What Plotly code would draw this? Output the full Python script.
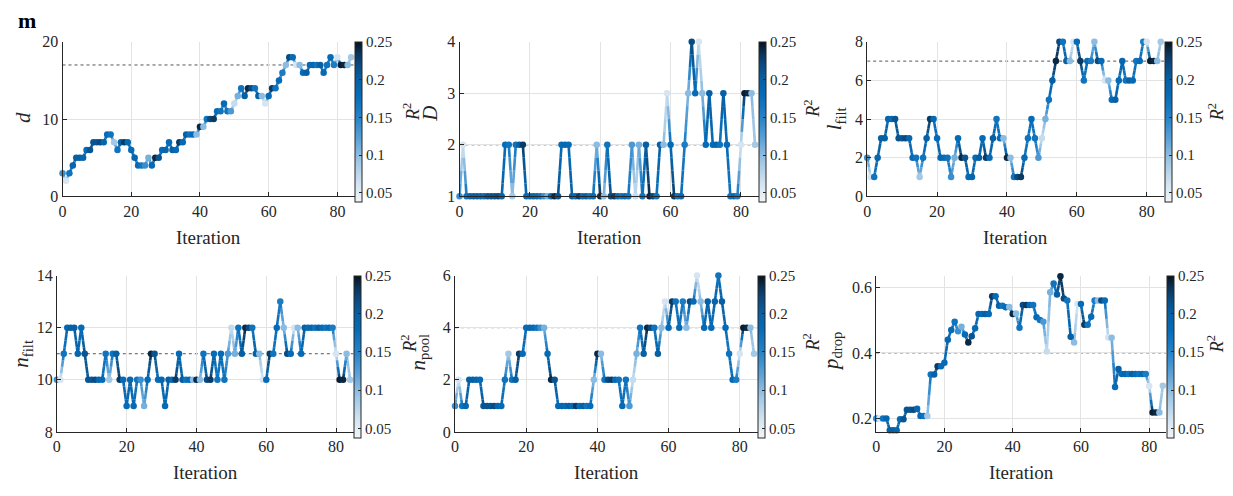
import plotly.graph_objects as go
from plotly.colors import sample_colorscale

W, H = 1233, 496

iterations = list(range(85))

r2 = [0.14, 0.06, 0.17, 0.19, 0.20, 0.20, 0.19, 0.18, 0.21, 0.21,
      0.21, 0.22, 0.19, 0.18, 0.17, 0.09, 0.17, 0.20, 0.23, 0.18,
      0.18, 0.19, 0.18, 0.17, 0.14, 0.11, 0.18, 0.24, 0.21, 0.18,
      0.19, 0.18, 0.20, 0.18, 0.23, 0.18, 0.20, 0.17, 0.18, 0.10,
      0.24, 0.10, 0.17, 0.22, 0.23, 0.18, 0.17, 0.18, 0.17, 0.13,
      0.07, 0.11, 0.17, 0.20, 0.24, 0.22, 0.17, 0.20, 0.10, 0.06,
      0.18, 0.23, 0.17, 0.18, 0.16, 0.10, 0.22, 0.18, 0.06, 0.10,
      0.18, 0.20, 0.18, 0.19, 0.17, 0.20, 0.18, 0.17, 0.18, 0.16,
      0.06, 0.245, 0.24, 0.10, 0.09]

d_vals = [3, 2, 3, 4, 5, 5, 5, 6, 6, 7,
          7, 7, 7, 8, 8, 7, 6, 7, 7, 7,
          6, 5, 4, 4, 4, 5, 4, 5, 5, 6,
          6, 7, 6, 6, 7, 7, 8, 8, 8, 8,
          9, 9, 10, 10, 10, 11, 11, 12, 11, 11,
          12, 13, 14, 13, 14, 14, 14, 13, 13, 12,
          13, 14, 14, 15, 16, 17, 18, 18, 17, 17,
          16, 16, 17, 17, 17, 17, 16, 17, 18, 17,
          18, 17, 17, 17, 18]

D_vals = [1, 2, 1, 1, 1, 1, 1, 1, 1, 1,
          1, 1, 1, 2, 2, 1, 2, 2, 2, 1,
          1, 1, 1, 1, 1, 1, 1, 1, 1, 2,
          2, 2, 1, 1, 1, 1, 1, 1, 1, 2,
          1, 1, 2, 1, 1, 1, 1, 1, 1, 2,
          1, 2, 1, 2, 1, 1, 1, 2, 2, 3,
          2, 1, 1, 1, 2, 3, 4, 3, 4, 3,
          2, 3, 2, 2, 2, 3, 2, 1, 1, 1,
          2, 3, 3, 3, 2]

lfilt_vals = [2, 1, 1, 2, 3, 3, 4, 4, 4, 3,
              3, 3, 3, 2, 2, 1, 2, 3, 4, 4,
              3, 2, 2, 2, 1, 2, 3, 2, 2, 1,
              1, 2, 2, 3, 2, 2, 3, 4, 3, 3,
              2, 2, 1, 1, 1, 2, 3, 4, 3, 2,
              3, 4, 5, 6, 7, 8, 8, 7, 7, 8,
              8, 7, 6, 7, 7, 8, 7, 7, 6, 6,
              5, 5, 6, 7, 6, 6, 6, 7, 7, 8,
              8, 7, 7, 7, 8]

nfilt_vals = [10, 10, 11, 12, 12, 12, 11, 12, 11, 10,
              10, 10, 10, 10, 11, 10, 11, 11, 10, 10,
              9, 10, 9, 10, 10, 9, 10, 11, 11, 10,
              10, 9, 10, 10, 10, 11, 10, 10, 10, 10,
              10, 10, 11, 10, 10, 11, 10, 11, 10, 11,
              12, 11, 12, 11, 12, 12, 12, 11, 11, 10,
              10, 11, 11, 12, 13, 12, 11, 11, 12, 12,
              11, 12, 12, 12, 12, 12, 12, 12, 12, 12,
              11, 10, 10, 11, 10]

npool_vals = [1, 2, 1, 1, 2, 2, 2, 2, 1, 1,
              1, 1, 1, 1, 2, 3, 2, 2, 3, 3,
              4, 4, 4, 4, 4, 4, 3, 2, 2, 1,
              1, 1, 1, 1, 1, 1, 1, 1, 1, 2,
              3, 3, 2, 2, 2, 2, 2, 1, 2, 1,
              2, 3, 4, 3, 4, 4, 4, 3, 4, 5,
              4, 5, 5, 4, 5, 4, 5, 5, 6, 5,
              4, 5, 4, 5, 6, 5, 4, 3, 2, 2,
              3, 4, 4, 4, 3]

pdrop_vals = [0.200, 0.200, 0.200, 0.200, 0.164, 0.164, 0.164, 0.198, 0.198, 0.227,
              0.227, 0.227, 0.230, 0.208, 0.208, 0.208, 0.334, 0.334, 0.359, 0.359,
              0.370, 0.440, 0.470, 0.495, 0.466, 0.480, 0.456, 0.432, 0.451, 0.475,
              0.519, 0.519, 0.519, 0.519, 0.573, 0.573, 0.544, 0.544, 0.539, 0.540,
              0.519, 0.520, 0.477, 0.546, 0.546, 0.546, 0.546, 0.509, 0.500, 0.495,
              0.404, 0.585, 0.612, 0.578, 0.634, 0.566, 0.560, 0.449, 0.432, 0.549,
              0.549, 0.486, 0.486, 0.510, 0.560, 0.560, 0.560, 0.560, 0.447, 0.446,
              0.296, 0.351, 0.336, 0.336, 0.336, 0.336, 0.336, 0.336, 0.336, 0.336,
              0.299, 0.218, 0.218, 0.218, 0.300]

ref_values = [17, 2, 7, 11, 4, 0.4]
y_titles = ["<i>d</i>", "<i>D</i>", "<i>l</i><sub>filt</sub>",
            "<i>n</i><sub>filt</sub>", "<i>n</i><sub>pool</sub>", "<i>p</i><sub>drop</sub>"]
y_ranges = [[0, 20], [1, 4], [0, 8], [8, 14], [0, 6], [0.159, 0.636]]
y_ticks = [[0, 10, 20], [1, 2, 3, 4], [0, 2, 4, 6, 8], [8, 10, 12, 14], [0, 2, 4, 6], [0.2, 0.4, 0.6]]
x_ticks = [0, 20, 40, 60, 80]
cbar_ticks = [0.05, 0.1, 0.15, 0.2, 0.25]
cbar_labels = ["0.05", "0.1", "0.15", "0.2", "0.25"]
cmin, cmax = 0.038, 0.25

series = [d_vals, D_vals, lfilt_vals, nfilt_vals, npool_vals, pdrop_vals]

# layout geometry (pixels)
x_doms = [(58.7, 351.7), (457, 757), (866, 1164), (53, 350.7), (452.5, 756), (875, 1166)]
y_doms = [(35, 195), (35, 195), (35, 195), (277, 439), (277, 439), (277, 439)]
ytitle_pos = [(19, 113), (428, 110), (834, 115), (18, 358), (416, 356), (830, 356)]
xtitle_y = [238, 238, 238, 481, 481, 481]
r2_pos = [(409, 108), (811, 104), (1216, 108), (406, 348), (810, 346), (1215, 348)]

colorscale = [[0.0, "#f2f5f8"], [0.104, "#d6e5f1"], [0.245, "#a3c9e6"],
              [0.387, "#5fa3d8"], [0.528, "#2583c9"], [0.67, "#066bb7"],
              [0.764, "#0760a4"], [0.858, "#0a4a80"], [0.929, "#0a3356"],
              [1.0, "#08121c"]]

FONT = "Liberation Serif, Times New Roman, serif"
TXT = "#262626"


def px(x):
    return x / W


def py(y):
    return 1 - y / H


def col(v):
    t = min(max((v - cmin) / (cmax - cmin), 0), 1)
    return sample_colorscale(colorscale, [t])[0]


def text(s, x, y, size, angle=0, color=TXT, xanchor="center"):
    return dict(text=s, x=px(x), y=py(y), xref="paper", yref="paper", showarrow=False,
                textangle=angle, xanchor=xanchor, yanchor="middle",
                font=dict(family=FONT, size=size, color=color))


fig = go.Figure()
layout = dict(width=W, height=H, autosize=False,
              margin=dict(l=0, r=0, t=0, b=0),
              paper_bgcolor="white", plot_bgcolor="white",
              showlegend=False, font=dict(family=FONT, color=TXT))
annotations = []
shapes = []

K = 4
for p in range(6):
    xa = "x" if p == 0 else f"x{p+1}"
    ya = "y" if p == 0 else f"y{p+1}"
    vals = series[p]
    groups = {}
    for i in range(len(iterations) - 1):
        x0, x1 = iterations[i], iterations[i + 1]
        y0, y1 = vals[i], vals[i + 1]
        for k in range(K):
            t0, t1 = k / K, (k + 1) / K
            tm = (t0 + t1) / 2
            rv = r2[i] + (r2[i + 1] - r2[i]) * tm
            q = round(rv / 0.004) * 0.004
            g = groups.setdefault(q, ([], []))
            g[0].extend([x0 + (x1 - x0) * t0, x0 + (x1 - x0) * t1, None])
            g[1].extend([y0 + (y1 - y0) * t0, y0 + (y1 - y0) * t1, None])
    for q, (gx, gy) in sorted(groups.items()):
        fig.add_trace(go.Scatter(x=gx, y=gy, mode="lines", xaxis=xa, yaxis=ya,
                                 line=dict(color=col(q), width=2.6),
                                 hoverinfo="skip"))
    ax0, ax1 = y_doms[p]
    fig.add_trace(go.Scatter(
        x=iterations, y=vals, mode="markers", xaxis=xa, yaxis=ya, cliponaxis=False,
        marker=dict(size=6.5, color=r2, colorscale=colorscale, cmin=cmin, cmax=cmax,
                    line=dict(width=0), showscale=True,
                    colorbar=dict(x=px(x_doms[p][1] + 0.5), xanchor="left", xpad=0,
                                  y=py(ax0), yanchor="top", ypad=0,
                                  len=ax1 - ax0, lenmode="pixels",
                                  thickness=7, outlinewidth=1, outlinecolor=TXT,
                                  tickvals=cbar_ticks, ticktext=cbar_labels,
                                  ticks="inside", ticklen=3, tickcolor=TXT,
                                  tickfont=dict(family=FONT, size=15, color=TXT))),
        hovertemplate="%{x}, %{y}<extra></extra>"))

    xkey = "xaxis" if p == 0 else f"xaxis{p+1}"
    ykey = "yaxis" if p == 0 else f"yaxis{p+1}"
    common = dict(showgrid=True, gridcolor="#e3e3e3", gridwidth=1, zeroline=False,
                  showline=True, linecolor=TXT, linewidth=1,
                  ticks="inside", ticklen=4, tickcolor=TXT,
                  tickfont=dict(family=FONT, size=16, color=TXT))
    layout[xkey] = dict(domain=[px(x_doms[p][0]), px(x_doms[p][1])], anchor=ya,
                        range=[0, 85], tickvals=x_ticks, **common)
    layout[ykey] = dict(domain=[py(ax1), py(ax0)], anchor=xa,
                        range=y_ranges[p], tickvals=y_ticks[p], **common)
    shapes.append(dict(type="line", xref=xa, yref=ya, x0=0, x1=85,
                       y0=ref_values[p], y1=ref_values[p],
                       line=dict(color="#555555", width=1, dash="dot"), layer="below"))
    annotations.append(text(y_titles[p], ytitle_pos[p][0], ytitle_pos[p][1], 21, angle=-90))
    annotations.append(text("Iteration", (x_doms[p][0] + x_doms[p][1]) / 2, xtitle_y[p], 19))
    annotations.append(text("<i>R</i><sup>2</sup>", r2_pos[p][0], r2_pos[p][1], 18, angle=-90))

annotations.append(text("<b>m</b>", 12, 13, 22, color="black", xanchor="left"))

layout["annotations"] = annotations
layout["shapes"] = shapes
fig.update_layout(**layout)
fig.write_html("out.html")
